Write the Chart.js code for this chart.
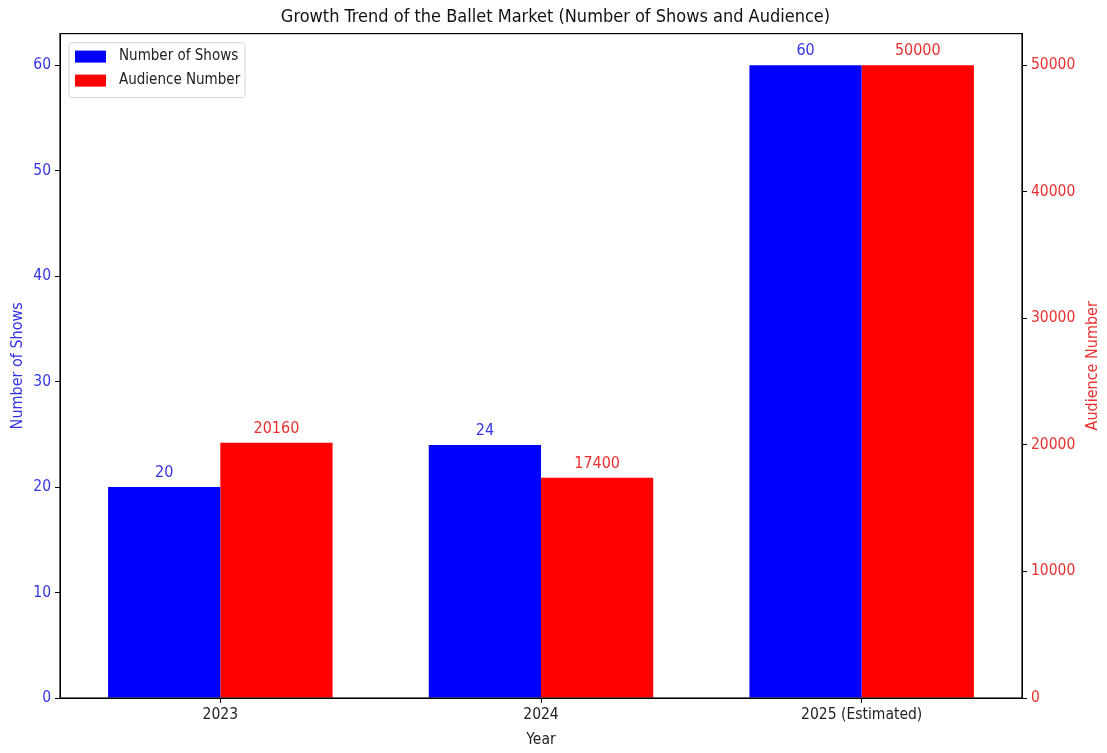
<!DOCTYPE html>
<html>
<head>
<meta charset="utf-8">
<script src="https://cdn.jsdelivr.net/npm/chart.js@4.4.0/dist/chart.umd.min.js"></script>
<style>
  html, body { margin: 0; padding: 0; background: #fff; }
  #wrap { width: 1107px; height: 753px; }
</style>
</head>
<body>
<div id="wrap"><canvas id="balletChart" width="1107" height="753"></canvas></div>
<script>
// --- datos ---
const years = ["2023", "2024", "2025 (Estimated)"];
const showsData = [20, 24, 60];
const audienceData = [20160, 17400, 50000];
const showsTicks = [0, 10, 20, 30, 40, 50, 60];
const audienceTicks = [0, 10000, 20000, 30000, 40000, 50000];

const FONT = "'DejaVu Sans Condensed', 'Liberation Sans', sans-serif";
const blueText = "#3434e6";
const redText = "#ea3030";

// --- plugin: marco, leyenda, etiquetas, título eje derecho ---
const decorPlugin = {
    id: "decor",
    afterDatasetsDraw(chart) {
        const { ctx, chartArea: a } = chart;
        ctx.save();

        // marco del área
        ctx.strokeStyle = "#000";
        ctx.lineWidth = 1.2;
        ctx.strokeRect(a.left, a.top, a.right - a.left, a.bottom - a.top);

        // valores encima de barras
        ctx.font = "16px " + FONT;
        ctx.textAlign = "center";
        ctx.textBaseline = "bottom";
        chart.data.datasets.forEach((ds, i) => {
            const meta = chart.getDatasetMeta(i);
            ctx.fillStyle = i === 0 ? blueText : redText;
            meta.data.forEach((bar, j) => {
                ctx.fillText(String(ds.data[j]), bar.x, bar.y - 6);
            });
        });

        // leyenda
        const lx = a.left + 9, ly = a.top + 9;
        ctx.fillStyle = "rgba(255,255,255,0.85)";
        ctx.strokeStyle = "#d6d6d6";
        ctx.lineWidth = 1;
        ctx.beginPath();
        ctx.roundRect(lx, ly, 176, 55, 3);
        ctx.fill();
        ctx.stroke();
        ctx.font = "15px " + FONT;
        ctx.textAlign = "left";
        ctx.textBaseline = "middle";
        chart.data.datasets.forEach((ds, i) => {
            const y = ly + 14 + i * 24;
            ctx.fillStyle = ds.backgroundColor;
            ctx.fillRect(lx + 6, y - 6, 31, 12);
            ctx.fillStyle = "#222";
            ctx.fillText(ds.label, lx + 50, y);
        });

        // título eje derecho (de abajo hacia arriba)
        ctx.translate(1093, (a.top + a.bottom) / 2);
        ctx.rotate(-Math.PI / 2);
        ctx.textAlign = "center";
        ctx.textBaseline = "middle";
        ctx.fillStyle = redText;
        ctx.font = "16px " + FONT;
        ctx.fillText("Audience Number", 0, 0);
        ctx.restore();
    },
};

function createBalletChart(ctx) {
    return new Chart(ctx, {
        type: "bar",
        data: {
            labels: years,
            datasets: [
                {
                    label: "Number of Shows",
                    data: showsData,
                    backgroundColor: "#0000ff",
                    yAxisID: "y",
                },
                {
                    label: "Audience Number",
                    data: audienceData,
                    backgroundColor: "#ff0000",
                    yAxisID: "y1",
                },
            ],
        },
        options: {
            responsive: false,
            animation: false,
            layout: { padding: { top: 3, left: 4 } },
            datasets: { bar: { categoryPercentage: 0.7, barPercentage: 1.0 } },
            plugins: {
                legend: { display: false },
                tooltip: { enabled: false },
                title: {
                    display: true,
                    text: "Growth Trend of the Ballet Market (Number of Shows and Audience)",
                    color: "#111",
                    font: { family: FONT, size: 18, weight: "normal" },
                    padding: { top: 4, bottom: 5 },
                },
            },
            scales: {
                x: {
                    offset: true,
                    grid: { display: true, drawOnChartArea: false, offset: false, tickLength: 5, color: "#000" },
                    border: { color: "#000" },
                    ticks: { color: "#222", font: { family: FONT, size: 15.5 }, padding: 3 },
                    title: { display: true, text: "Year", color: "#222", font: { family: FONT, size: 15.5 }, padding: { top: 0 } },
                    afterFit(s) { s.height = 55; },
                },
                y: {
                    position: "left",
                    min: 0,
                    max: 63,
                    afterBuildTicks(s) { s.ticks = showsTicks.map((v) => ({ value: v })); },
                    grid: { drawOnChartArea: false, tickLength: 5, color: "#000" },
                    border: { color: "#000" },
                    ticks: { color: blueText, font: { family: FONT, size: 15.5 }, padding: 4 },
                    title: { display: true, text: "Number of Shows", color: blueText, font: { family: FONT, size: 16 }, padding: { bottom: 0 } },
                    afterFit(s) { s.width = 56; },
                },
                y1: {
                    position: "right",
                    min: 0,
                    max: 52500,
                    afterBuildTicks(s) { s.ticks = audienceTicks.map((v) => ({ value: v })); },
                    grid: { drawOnChartArea: false, tickLength: 5, color: "#000" },
                    border: { color: "#000" },
                    ticks: {
                        color: redText,
                        font: { family: FONT, size: 15.5 },
                        padding: 4,
                        callback: (v) => String(v),
                    },
                    afterFit(s) { s.width = 85; },
                },
            },
        },
        plugins: [decorPlugin],
    });
}

document.addEventListener("DOMContentLoaded", () => {
    createBalletChart(document.getElementById("balletChart"));
});
</script>
</body>
</html>
